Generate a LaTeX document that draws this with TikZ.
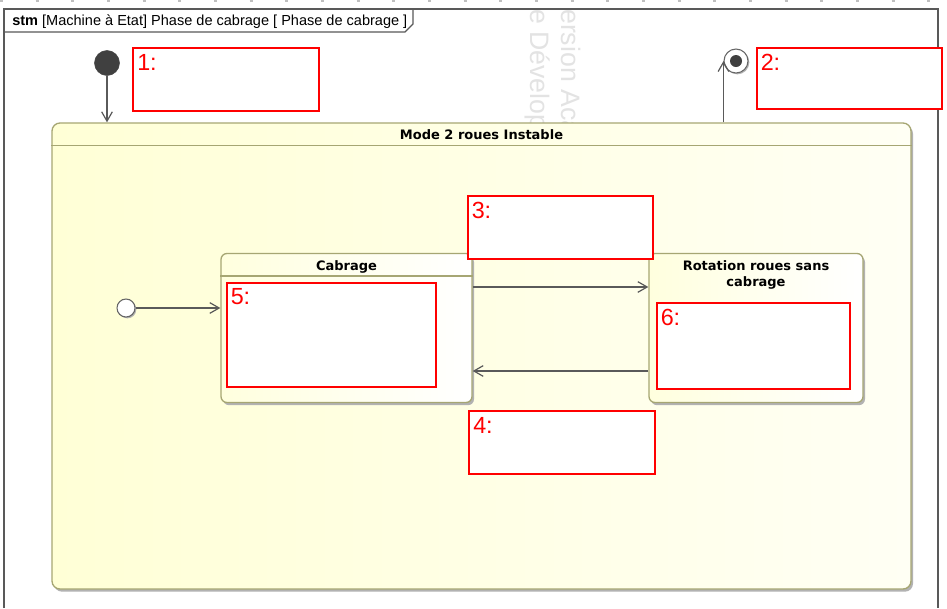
\documentclass[tikz,border=0pt]{standalone}
\usepackage{fontspec}
\setmainfont{Liberation Sans}
\newfontfamily\titlefont{DejaVu Sans}
\usetikzlibrary{arrows.meta,positioning,shadows}
\definecolor{stateline}{HTML}{A6A673}
\definecolor{modefill}{HTML}{FFFFD6}
\definecolor{modeend}{HTML}{FFFFF4}
\definecolor{statefill}{HTML}{FFFFDE}
\definecolor{wire}{HTML}{5A5A5A}
\definecolor{markred}{HTML}{FF0000}
\definecolor{wmgray}{HTML}{E3E3E3}
\tikzset{
statebox/.style = {draw=stateline, line width=1pt, rectangle, rounded corners=4.5pt, left color=statefill, right color=white, drop shadow={shadow xshift=1.5pt, shadow yshift=-2pt, fill=black!30, opacity=1}},
modebox/.style = {statebox, rounded corners=6pt, left color=modefill, right color=modeend},
sep/.style = {draw=stateline, line width=1pt},
title/.style = {font=\titlefont\fontsize{9.75}{12}\selectfont\bfseries, align=center, inner sep=0pt},
note/.style = {draw=markred, line width=1.5pt, fill=white, rectangle, inner sep=0pt},
notenum/.style = {text=markred, font=\fontsize{17.5}{17.5}\selectfont, inner sep=0pt, anchor=north west, xshift=3.5pt, yshift=-5pt},
initial/.style = {draw=black!75, fill=black!75, circle, minimum size=18.75pt, inner sep=0pt},
pseudo/.style = {draw=black!60, fill=white, circle, line width=0.8pt, minimum size=13.5pt, inner sep=0pt, drop shadow={shadow xshift=1pt, shadow yshift=-1pt, fill=black!30, opacity=1}},
final/.style = {draw=black!60, fill=white, circle, line width=0.8pt, minimum size=18pt, inner sep=0pt, drop shadow={shadow xshift=1pt, shadow yshift=-1pt, fill=black!30, opacity=1}},
finaldot/.style = {fill=black!75, circle, minimum size=9pt, inner sep=0pt},
trans/.style = {draw=wire, line width=0.9pt},
frameline/.style = {draw=black!65, line width=1pt},
wmark/.style = {text=wmgray, font=\fontsize{20}{24}\selectfont, rotate=-90, anchor=base west, inner sep=0pt}
}
\begin{document}
\begin{tikzpicture}[x=0.75pt, y=-0.75pt, >={Straight Barb[length=7pt,width=8pt]}, font=\fontsize{10.9}{13}\selectfont]

                \path [fill=white, use as bounding box] (0,0) rectangle (947,608);
                \draw [black!25, line width=1.5pt, dash pattern=on 2.25pt off 24.5pt] (0,1) -- (947,1);

                % watermark
                \node [wmark] (wm1) at (561,9) {ersion Académique};
                \node [wmark] (wm2) at (530,9) {e Développement};

                % frame
                \draw [frameline] (4,608) -- (4,9) -- (938,9) -- (938,608);
                \draw [frameline] (4,32) -- (405,32) -- (413,24) -- (413,9);
                \node [anchor=base west, inner sep=0pt] (head) at (12,25) {\textbf{stm} [Machine à Etat] Phase de cabrage [ Phase de cabrage ]};

                \node [initial] (init) at (107,63) {};
                \node [final] (fin) at (736,61) {};
                \node [finaldot] (findot) at (fin.center) {};

                \node [modebox, minimum width=644.25pt, minimum height=349.5pt] (mode) at (481.5,356) {};
                \node [title, below=5.5pt of mode.north] (modetitle) {Mode 2 roues Instable};
                \draw [sep] ([yshift=-17.25pt]mode.north west) -- ([yshift=-17.25pt]mode.north east);

                \node [statebox, minimum width=188.25pt, minimum height=111.75pt] (cab) at (346.5,328) {};
                \node [title, below=5.5pt of cab.north] (cabtitle) {Cabrage};
                \draw [sep] ([yshift=-17.25pt]cab.north west) -- ([yshift=-17.25pt]cab.north east);

                \node [statebox, minimum width=160.5pt, minimum height=111.75pt] (rot) at (756,328) {};
                \node [title, below=5.5pt of rot.north] (rottitle) {Rotation roues sans\\cabrage};

                \node [pseudo] (start) at (126,308) {};

                \draw [trans,->] (init) -- (init |- mode.north);
                \draw [trans,->] (mode.north -| fin.west) -- (fin.west);
                \draw [trans,->] (start) -- (start -| cab.west);
                \draw [trans,->] ([yshift=30.75pt]cab.east) -- ([yshift=30.75pt]cab.east -| rot.west);
                \draw [trans,->] ([yshift=-32.25pt]rot.west) -- ([yshift=-32.25pt]rot.west -| cab.east);

                % numbered answer boxes
                \node [note, minimum width=139pt, minimum height=47pt, label={[notenum]north west:{1:}}] (note1) at (226,79.5) {};
                \node [note, minimum width=139pt, minimum height=46pt, label={[notenum]north west:{2:}}] (note2) at (849.5,78.5) {};
                \node [note, minimum width=139pt, minimum height=47pt, label={[notenum]north west:{3:}}] (note3) at (560.5,227.5) {};
                \node [note, minimum width=139pt, minimum height=47pt, label={[notenum]north west:{4:}}] (note4) at (562,442.5) {};
                \node [note, minimum width=157pt, minimum height=78pt, label={[notenum]north west:{5:}}] (note5) at (331.5,335) {};
                \node [note, minimum width=145pt, minimum height=64.5pt, label={[notenum]north west:{6:}}] (note6) at (753.5,346) {};

\end{tikzpicture}
\end{document}
